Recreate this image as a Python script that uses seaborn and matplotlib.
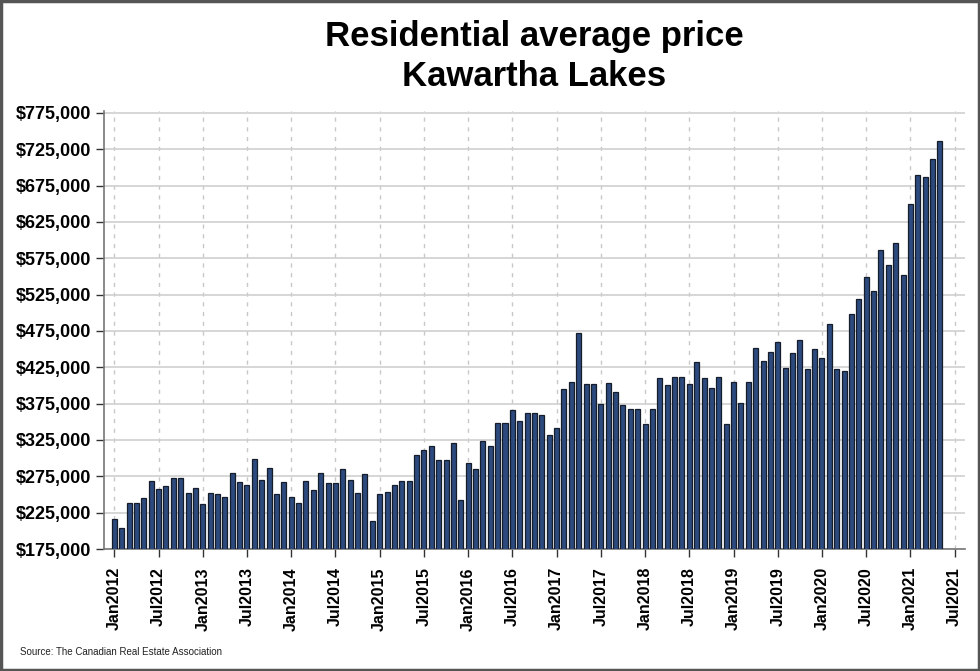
# Residential average price - Kawartha Lakes, monthly bars

import pandas as pd
import matplotlib.pyplot as plt
import seaborn as sns
from matplotlib.ticker import FuncFormatter
from matplotlib.patches import Rectangle

# monthly average price, Jan 2012 - May 2021
prices_2012 = [216700, 203500, 237900, 238700, 244800, 268200, 257200, 261700, 272700, 272300, 252100, 258500]
prices_2013 = [236900, 252500, 250300, 247000, 280000, 267600, 263100, 298900, 270000, 286900, 250700, 266800]
prices_2014 = [246100, 238300, 268600, 256400, 279100, 265400, 266200, 285100, 270400, 252100, 278600, 213500]
prices_2015 = [251100, 253900, 262700, 269000, 269000, 304800, 311700, 316300, 297900, 297900, 321300, 242000]
prices_2016 = [293800, 285500, 323600, 316300, 348000, 348000, 366700, 351600, 362600, 362600, 359800, 332300]
prices_2017 = [341900, 395200, 405200, 471800, 402500, 402500, 374500, 403900, 391100, 372800, 367200, 367200]
prices_2018 = [346600, 367700, 409900, 401100, 412100, 411400, 402100, 432800, 410300, 396600, 412100, 346600]
prices_2019 = [405200, 375500, 404800, 452000, 434100, 446500, 459900, 423700, 445100, 462600, 422700, 450200]
prices_2020 = [437800, 484200, 422700, 420400, 498000, 518600, 549700, 529600, 586500, 566200, 596100, 551700]
prices_2021 = [650200, 689700, 687400, 711200, 736000]

prices = (prices_2012 + prices_2013 + prices_2014 + prices_2015 + prices_2016
          + prices_2017 + prices_2018 + prices_2019 + prices_2020 + prices_2021)
months = pd.date_range("2012-01-01", periods=len(prices), freq="MS")
df = pd.DataFrame({"month": months.strftime("%Y-%m"), "price": prices})

# tick labels every 6 months, Jan2012 .. Jul2021
tick_dates = pd.date_range("2012-01-01", "2021-07-01", freq="6MS")
tick_labels = [d.strftime("%b%Y") for d in tick_dates]
y_ticks = list(range(175000, 775001, 50000))

sns.set_style("white")
plt.rcParams["font.family"] = ["Liberation Sans", "DejaVu Sans"]
plt.rcParams["text.color"] = "black"
plt.rcParams["xtick.color"] = "black"
plt.rcParams["ytick.color"] = "black"

fig = plt.figure(figsize=(9.8, 6.71), dpi=100)
ax = fig.add_axes([0.1061, 0.1818, 0.8786, 0.6531])

sns.barplot(data=df, x="month", y="price", color="#2d4a7e", saturation=1,
            width=0.68, edgecolor="#151c2a", linewidth=0.9, ax=ax, zorder=3)

ax.set_ylim(175000, 778000)
ax.set_xlim(-1.4, 115.4)
ax.set_yticks(y_ticks)
ax.yaxis.set_major_formatter(FuncFormatter(lambda v, p: f"${v:,.0f}"))
ax.set_xticks([i * 6 for i in range(len(tick_labels))])
ax.set_xticklabels(tick_labels, rotation=90)

for lab in ax.get_xticklabels():
    lab.set_fontweight("bold")
    lab.set_fontsize(11.5)
for lab in ax.get_yticklabels():
    lab.set_fontweight("bold")
    lab.set_fontsize(13)

ax.tick_params(axis="both", direction="out", length=6, width=1, color="#333333",
               labelcolor="black", pad=3, bottom=True, left=True)
ax.tick_params(axis="x", pad=7)
ax.set_xlabel("")
ax.set_ylabel("")

ax.grid(axis="y", color="#cfcfcf", linewidth=1.2, linestyle="-", zorder=0)
ax.grid(axis="x", color="#c8c8c8", linewidth=1, linestyle=(0, (3, 4)), zorder=0)
ax.set_axisbelow(True)

for s in ["top", "right"]:
    ax.spines[s].set_visible(False)
for s in ["left", "bottom"]:
    ax.spines[s].set_color("#777777")
    ax.spines[s].set_linewidth(1.2)

fig.text(0.545, 1 - 20 / 671, "Residential average price\nKawartha Lakes",
         ha="center", va="top", fontsize=25, fontweight="bold", linespacing=1.25,
         color="black")
fig.text(20 / 980, 1 - 652 / 671, "Source: The Canadian Real Estate Association",
         ha="left", va="center", fontsize=7, color="#222222")

# outer frame of the image
fig.patches.append(Rectangle((0.001, 0.001), 0.998, 0.997, transform=fig.transFigure,
                             fill=False, edgecolor="#555555", linewidth=2.5))

fig.savefig("out.png", dpi=100)
